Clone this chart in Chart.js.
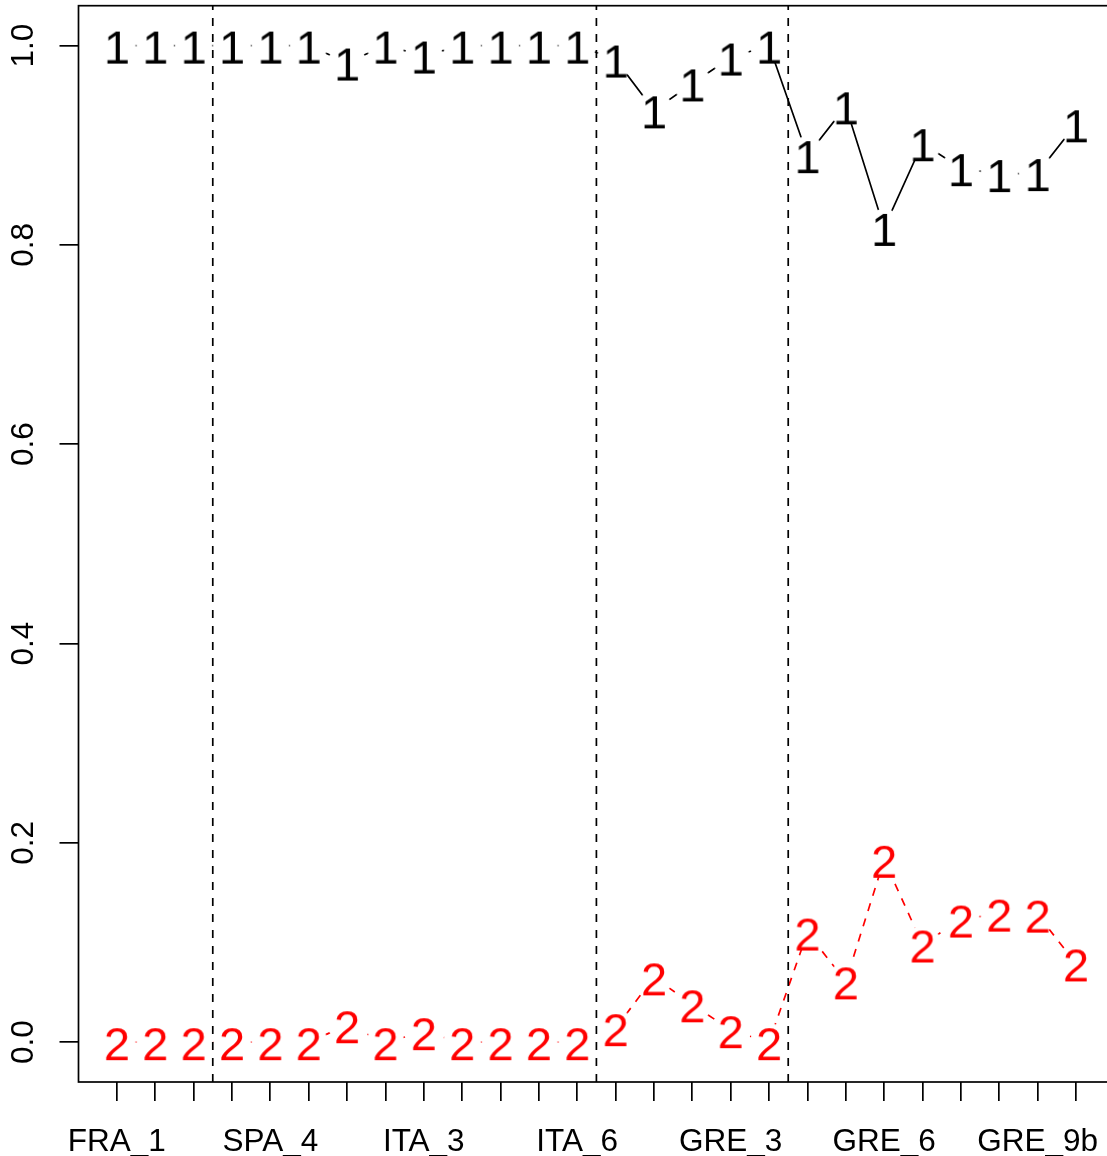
<!DOCTYPE html>
<html>
<head>
<meta charset="utf-8">
<script src="https://cdn.jsdelivr.net/npm/chart.js@4.4.1/dist/chart.umd.min.js"></script>
<style>
  html, body { margin: 0; padding: 0; background: #fff; overflow: hidden; }
  #wrap { width: 1120px; height: 1156px; position: relative; }
</style>
</head>
<body>
<div id="wrap"><canvas id="grafico"></canvas></div>
<script>
// sites along the x axis (only every 4th name fits under the axis)
const sites = [
  "FRA_1", "FRA_2", "FRA_3",
  "SPA_3", "SPA_4", "SPA_5", "ITA_1", "ITA_2", "ITA_3", "ITA_4", "ITA_5a", "ITA_5b", "ITA_6",
  "GRE_1", "GRE_2a", "GRE_2b", "GRE_3", "GRE_4",
  "GRE_5a", "GRE_5b", "GRE_6", "GRE_7", "GRE_8", "GRE_9a", "GRE_9b", "GRE_10"
];
// proportion of group 1 and group 2 per site
const grupo1 = [1, 1, 1, 1, 1, 1, 0.983, 1, 0.990, 1, 1, 1, 1,
                0.986, 0.935, 0.962, 0.988, 1,
                0.890, 0.939, 0.817, 0.902, 0.877, 0.871, 0.872, 0.921];
const grupo2 = [0, 0, 0, 0, 0, 0, 0.017, 0, 0.010, 0, 0, 0, 0,
                0.014, 0.065, 0.038, 0.012, 0,
                0.110, 0.061, 0.183, 0.098, 0.123, 0.129, 0.128, 0.079];
const yTicks = [0, 0.2, 0.4, 0.6, 0.8, 1.0];
const cortes = [2.5, 12.5, 17.5];
const cadaN = 4;

const fuente = '"Liberation Sans", Arial, sans-serif';

// R-style "type = b" marker: the digit with a white halo so the line stops short of it
function marcador(ch, color) {
  const c = document.createElement("canvas");
  c.width = 44; c.height = 44;
  const g = c.getContext("2d");
  g.fillStyle = "#fff";
  g.beginPath(); g.arc(22, 22, 18.9, 0, Math.PI * 2); g.fill();
  g.fillStyle = color;
  g.font = "47px " + fuente;
  g.textAlign = "center";
  g.textBaseline = "alphabetic";
  g.fillText(ch, 22, 22 + 17.5);
  return c;
}

const lineasCorte = cortes.map(b => ({
  data: [{ x: b, y: -0.04 }, { x: b, y: 1.04 }],
  borderColor: "#000",
  borderWidth: 1.7,
  borderDash: [8, 8],
  pointRadius: 0,
}));

const marco = {
  id: "marco",
  afterDraw(chart) {
    const { ctx, chartArea: a, scales: { x, y } } = chart;
    ctx.save();
    ctx.strokeStyle = "#000";
    ctx.lineWidth = 1.7;
    ctx.strokeRect(a.left, a.top, a.right - a.left, a.bottom - a.top);
    ctx.fillStyle = "#000";
    ctx.font = "31.5px " + fuente;
    ctx.textAlign = "center";
    ctx.textBaseline = "alphabetic";
    sites.forEach((s, i) => {
      if (i % cadaN) return;
      ctx.fillText(s, x.getPixelForValue(i), a.bottom + 69);
    });
    yTicks.forEach(v => {
      ctx.save();
      ctx.translate(a.left - 45.5, y.getPixelForValue(v));
      ctx.rotate(-Math.PI / 2);
      ctx.fillText(v.toFixed(1), 0, 0);
      ctx.restore();
    });
    ctx.restore();
  }
};

const rejilla = { drawOnChartArea: false, drawTicks: true, tickLength: 19, color: "#000", lineWidth: 1.7 };

new Chart(document.getElementById("grafico"), {
  type: "line",
  data: {
    datasets: [
      ...lineasCorte,
      {
        data: grupo1.map((v, i) => ({ x: i, y: v })),
        borderColor: "#000",
        borderWidth: 1.7,
        pointStyle: marcador("1", "#000"),
        tension: 0,
      },
      {
        data: grupo2.map((v, i) => ({ x: i, y: v })),
        borderColor: "#ff0000",
        borderWidth: 1.7,
        borderDash: [8, 8],
        pointStyle: marcador("2", "#ff0000"),
        tension: 0,
      },
    ]
  },
  options: {
    responsive: true,
    maintainAspectRatio: false,
    animation: false,
    layout: { padding: { top: 5.4, right: 4.8, left: 0, bottom: 0 } },
    plugins: { legend: { display: false }, tooltip: { enabled: false } },
    scales: {
      x: {
        type: "linear",
        min: -1,
        max: 26,
        afterBuildTicks: s => { s.ticks = sites.map((_, i) => ({ value: i })); },
        afterFit: s => { s.height = 74; },
        grid: rejilla,
        border: { display: false },
        ticks: { display: false },
      },
      y: {
        min: -0.04,
        max: 1.04,
        afterBuildTicks: s => { s.ticks = yTicks.map(v => ({ value: v })); },
        afterFit: s => { s.width = 78.5; },
        grid: rejilla,
        border: { display: false },
        ticks: { display: false },
      }
    }
  },
  plugins: [marco]
});
</script>
</body>
</html>
